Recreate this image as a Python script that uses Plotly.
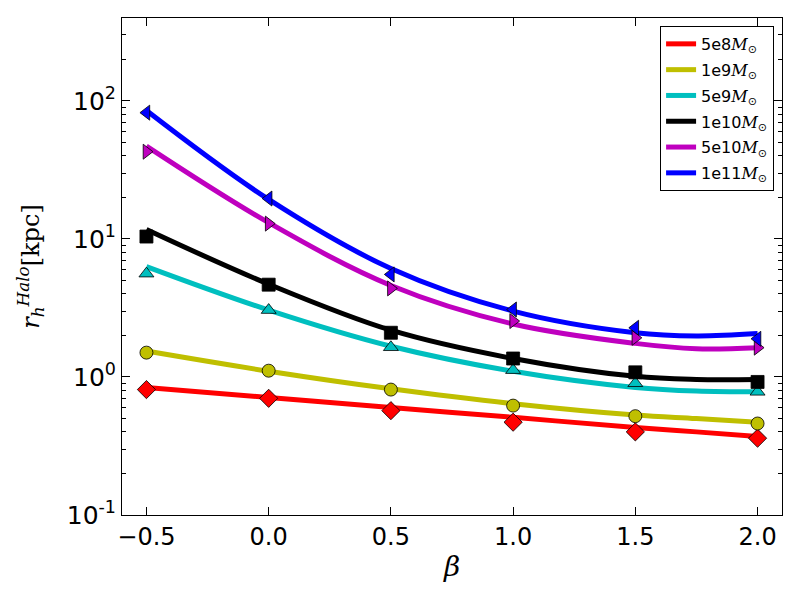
import plotly.graph_objects as go

# ---------------- data ----------------
beta_pts = [-0.5, 0.0, 0.5, 1.0, 1.5, 2.0]
beta_fit = [-0.5, 0.0, 0.5, 1.0, 1.5, 1.75, 2.0]

labels = ["5e8", "1e9", "5e9", "1e10", "5e10", "1e11"]

pts_5e8 = [0.81, 0.70, 0.57, 0.47, 0.40, 0.36]
pts_1e9 = [1.50, 1.11, 0.81, 0.62, 0.52, 0.46]
pts_5e9 = [5.6, 3.05, 1.64, 1.12, 0.90, 0.78]
pts_1e10 = [10.4, 4.66, 2.09, 1.36, 1.08, 0.92]
pts_5e10 = [42.8, 12.9, 4.38, 2.54, 1.92, 1.63]
pts_1e11 = [82.1, 19.6, 5.53, 3.08, 2.27, 1.89]

fit_5e8 = [0.84, 0.71, 0.60, 0.51, 0.43, 0.40, 0.37]
fit_1e9 = [1.54, 1.10, 0.82, 0.64, 0.53, 0.50, 0.47]
fit_5e9 = [6.3, 3.05, 1.67, 1.10, 0.84, 0.79, 0.78]
fit_1e10 = [11.7, 4.7, 2.18, 1.36, 1.01, 0.96, 0.96]
fit_5e10 = [47, 13.1, 4.6, 2.42, 1.75, 1.60, 1.63]
fit_1e11 = [85, 19.3, 6.1, 3.0, 2.09, 1.98, 2.06]

y_major = [0.1, 1, 10, 100]
y_major_text = ["10<sup>-1</sup>", "10<sup>0</sup>", "10<sup>1</sup>", "10<sup>2</sup>"]
y_minor = [0.2, 0.3, 0.4, 0.5, 0.6, 0.7, 0.8, 0.9,
           2, 3, 4, 5, 6, 7, 8, 9,
           20, 30, 40, 50, 60, 70, 80, 90, 200, 300]

colors = ["#ff0000", "#bfbf00", "#00bfbf", "#000000", "#bf00bf", "#0000ff"]
symbols = ["diamond", "circle", "triangle-up", "square", "triangle-right", "triangle-left"]

all_pts = [pts_5e8, pts_1e9, pts_5e9, pts_1e10, pts_5e10, pts_1e11]
all_fit = [fit_5e8, fit_1e9, fit_5e9, fit_1e10, fit_5e10, fit_1e11]

# ---------------- figure ----------------
fig = go.Figure()

msun = "<span style='font-family:DejaVu Serif'><i>M</i></span><sub>⊙</sub>"
for lab, c, fit in zip(labels, colors, all_fit):
    fig.add_trace(go.Scatter(x=beta_fit, y=fit, mode="lines",
                             line=dict(color=c, width=5, shape="spline"),
                             name=lab + msun, legendgroup=lab))

for lab, c, sym, pts in zip(labels, colors, symbols, all_pts):
    size = 14 if sym == "diamond" else 13
    fig.add_trace(go.Scatter(x=beta_pts, y=pts, mode="markers",
                             marker=dict(color=c, symbol=sym, size=size,
                                         line=dict(color="black", width=0.8)),
                             showlegend=False, legendgroup=lab))

# page body adds 8px, margins compensate for it
fig.update_layout(
    width=800, height=600,
    paper_bgcolor="white", plot_bgcolor="white",
    margin=dict(l=114, r=26, t=10, b=93),
    font=dict(family="DejaVu Sans", color="black"),
    legend=dict(x=0.988, y=0.984, xanchor="right", yanchor="top",
                bordercolor="black", borderwidth=1, bgcolor="white",
                font=dict(size=16), tracegroupgap=2),
)

fig.update_xaxes(range=[-0.6, 2.1], tickvals=beta_pts, tickformat=".1f",
                 ticks="inside", ticklen=8, tickcolor="black",
                 showline=True, linecolor="black", linewidth=1, mirror="ticks",
                 showgrid=False, zeroline=False, tickfont=dict(size=24),
                 title=dict(text="<i>β</i>", font=dict(family="DejaVu Serif", size=28),
                            standoff=6))

fig.update_yaxes(type="log", range=[-1, 2.6],
                 tickvals=y_major, ticktext=y_major_text,
                 ticks="inside", ticklen=8, tickcolor="black",
                 minor=dict(tickvals=y_minor, ticks="inside", ticklen=4,
                            tickcolor="black", showgrid=False),
                 showline=True, linecolor="black", linewidth=1, mirror="ticks",
                 showgrid=False, zeroline=False, tickfont=dict(size=25),
                 title=dict(text="<i>r</i><sub><i>h</i></sub><sup><i>Halo</i></sup>[kpc]",
                            font=dict(family="DejaVu Serif", size=24), standoff=20))

fig.write_html("out.html")
